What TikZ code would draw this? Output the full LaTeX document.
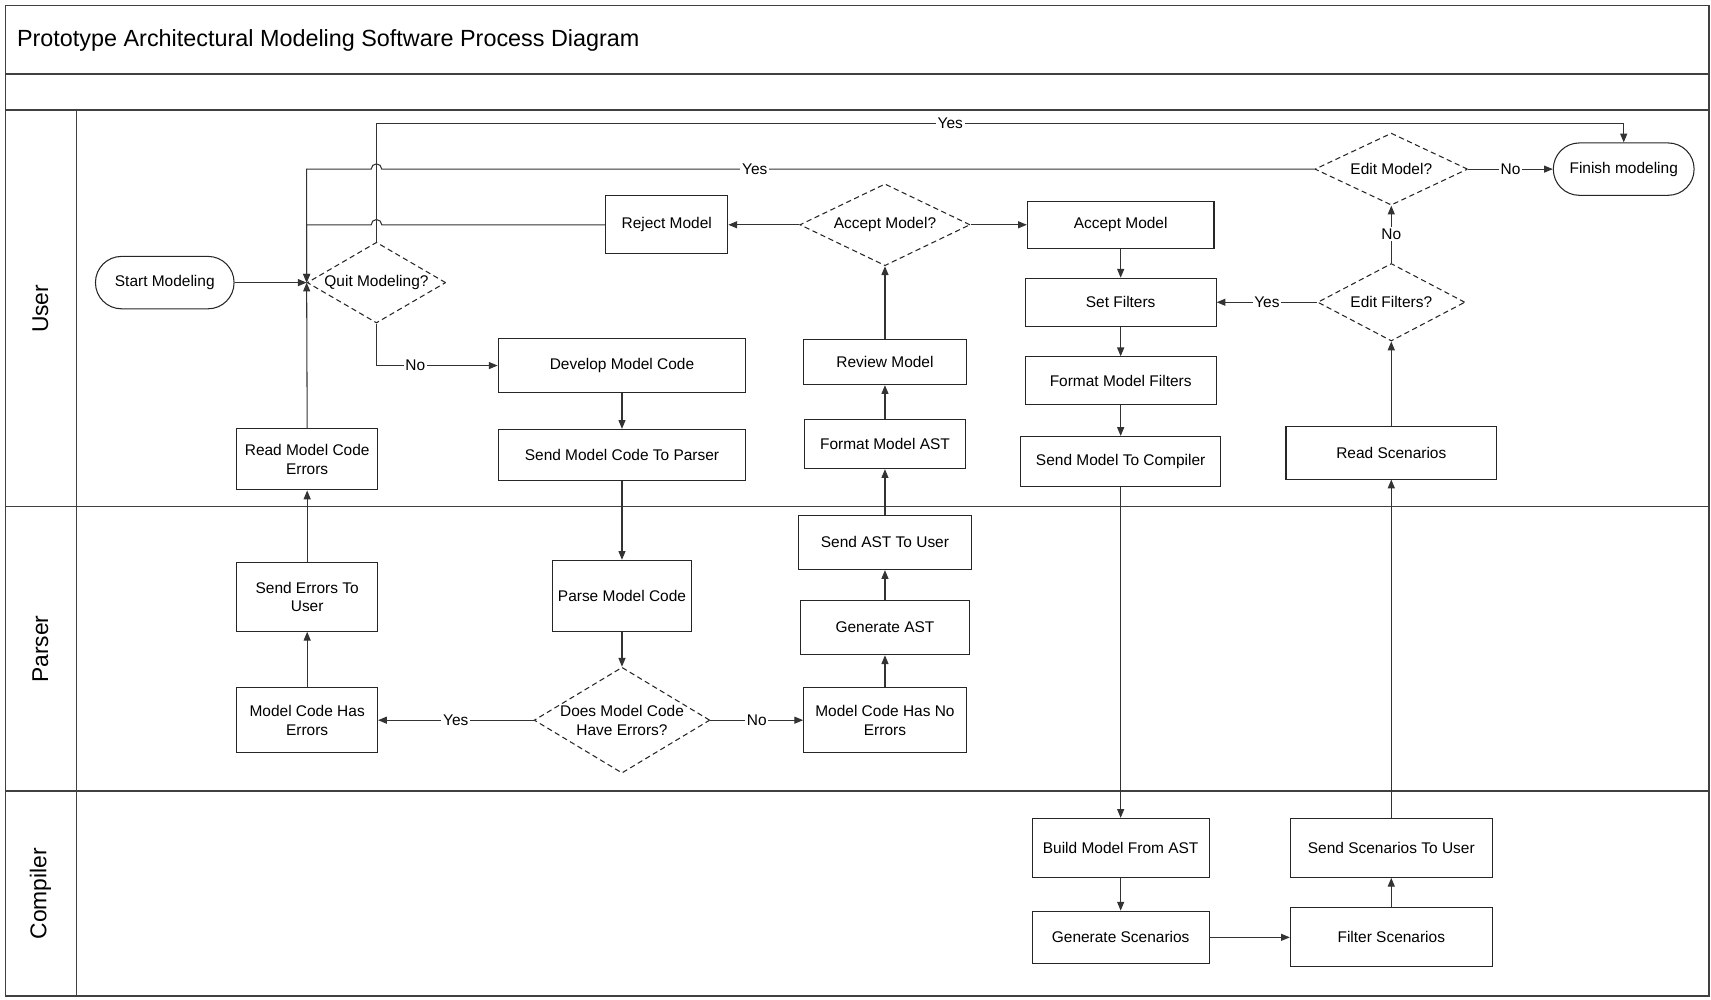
\documentclass[tikz,border=0pt]{standalone}
\usepackage{fontspec}
\setmainfont{Liberation Sans}
\usetikzlibrary{shapes.geometric,arrows.meta,positioning}

\newcommand{\upx}{0.021824cm}
\tikzset{
  box/.style 2 args={draw=black!85, line width=0.6pt, minimum width=#1*\upx, minimum height=#2*\upx,
    inner sep=1pt, align=center, font=\fontsize{8.8}{10.6}\selectfont},
  term/.style={box={#1}{48}, rounded corners=0.52cm},
  decide/.style 2 args={draw=black!85, line width=0.6pt, densely dashed, diamond, shape aspect=1.7,
    minimum width=#1*\upx, minimum height=#2*\upx, inner sep=0pt, align=center,
    font=\fontsize{8.8}{10.6}\selectfont},
  flow/.style={draw=black!80, line width=0.6pt, -{Triangle[length=5pt,width=4pt]}},
  lbl/.style={fill=white, inner sep=1pt, font=\fontsize{8.8}{10.6}\selectfont},
  lane/.style={draw=black!75, line width=0.9pt},
  lanename/.style={rotate=90, font=\fontsize{13}{16}\selectfont},
}

\begin{document}
\begin{tikzpicture}[x=\upx, y=\upx]
  \useasboundingbox (0,0) rectangle (1568,916);

  % 泳道
  \draw[lane] (5,3) rectangle (1566,911);
  \draw[lane] (5,848) -- (1566,848);
  \draw[lane] (5,815) -- (1566,815);
  \draw[lane] (70,815) -- (70,3);
  \draw[lane] (5,452) -- (1566,452);
  \draw[lane] (5,191) -- (1566,191);

  \node[anchor=west, font=\fontsize{13.3}{16}\selectfont] (title) at (10,879)
    {Prototype Architectural Modeling Software Process Diagram};
  \node[lanename] (luser) at (37,633) {User};
  \node[lanename] (lparser) at (37,321) {Parser};
  \node[lanename] (lcompiler) at (37,97) {Compiler};

  % User
  \node[term=127] (start) at (151,657) {Start Modeling};
  \node[decide={127}{74}] (quit) at (345,657) {Quit Modeling?};
  \node[box={112}{53}] (reject) at (611,710) {Reject Model};
  \node[decide={156}{75}] (acceptq) at (811,710) {Accept Model?};
  \node[box={171}{43}] (accept) at (1027,710) {Accept Model};
  \node[decide={140}{66}] (editmodel) at (1275,761) {Edit Model?};
  \node[term=129] (finish) at (1488,761) {Finish modeling};
  \node[box={175}{44}] (setfilt) at (1027,639) {Set Filters};
  \node[decide={135}{71}] (editfilt) at (1275,639) {Edit Filters?};
  \node[box={227}{49}] (develop) at (570,581) {Develop Model Code};
  \node[box={150}{41}] (review) at (811,584) {Review Model};
  \node[box={175}{44}] (fmtfilt) at (1027,567) {Format Model Filters};
  \node[box={129}{56}] (readerr) at (281.5,495) {Read Model Code\\Errors};
  \node[box={227}{47}] (sendcode) at (570,499) {Send Model Code To Parser};
  \node[box={148}{45}] (fmtast) at (811,509) {Format Model AST};
  \node[box={183}{46}] (sendcomp) at (1027,493) {Send Model To Compiler};
  \node[box={193}{48}] (readscen) at (1275,501) {Read Scenarios};

  % Parser
  \node[box={129}{63}] (senderr) at (281.5,369) {Send Errors To\\User};
  \node[box={127}{65}] (parse) at (570,370) {Parse Model Code};
  \node[box={158}{50}] (sendast) at (811,419) {Send AST To User};
  \node[box={155}{50}] (genast) at (811,341) {Generate AST};
  \node[box={129}{60}] (haserr) at (281.5,256) {Model Code Has\\Errors};
  \node[decide={161}{97}] (doeserr) at (570,256) {Does Model Code\\Have Errors?};
  \node[box={149}{60}] (noerr) at (811,256) {Model Code Has No\\Errors};

  % Compiler
  \node[box={162}{54}] (build) at (1027,139) {Build Model From AST};
  \node[box={185}{54}] (sendscen) at (1275,139) {Send Scenarios To User};
  \node[box={162}{48}] (genscen) at (1027,57) {Generate Scenarios};
  \node[box={185}{54}] (filtscen) at (1275,57) {Filter Scenarios};

  % 连线
  \coordinate (topy) at (0,803);
  \coordinate (jx) at ([xshift=3pt]quit.north);
  \draw[flow] (start) -- (quit.west);
  \draw[flow] (quit.north) -- (quit.north |- topy) -- node[lbl, pos=0.46]{Yes} (finish.north |- topy) -- (finish.north);
  \draw[flow] (editmodel.west) -- node[lbl, pos=0.6]{Yes} (jx |- editmodel.west)
    arc[start angle=0, end angle=180, radius=3pt] -- (quit.west |- editmodel.west) -- (quit.west);
  \draw[flow] (reject.west) -- (jx |- reject.west)
    arc[start angle=0, end angle=180, radius=3pt] -- (quit.west |- reject.west) -- (quit.west);
  \draw[flow] (readerr.north) -- (quit.west);
  \draw[flow] (quit.south) |- node[lbl, pos=0.66]{No} (develop.west);
  \draw[flow] (develop) -- (sendcode);
  \draw[flow] (sendcode) -- (parse);
  \draw[flow] (parse) -- (doeserr);
  \draw[flow] (doeserr.west) -- node[lbl]{Yes} (haserr.east);
  \draw[flow] (doeserr.east) -- node[lbl]{No} (noerr.west);
  \draw[flow] (haserr) -- (senderr);
  \draw[flow] (senderr) -- (readerr);
  \draw[flow] (noerr) -- (genast);
  \draw[flow] (genast) -- (sendast);
  \draw[flow] (sendast) -- (fmtast);
  \draw[flow] (fmtast) -- (review);
  \draw[flow] (review) -- (acceptq.south);
  \draw[flow] (acceptq.west) -- (reject.east);
  \draw[flow] (acceptq.east) -- (accept.west);
  \draw[flow] (accept) -- (setfilt);
  \draw[flow] (setfilt) -- (fmtfilt);
  \draw[flow] (fmtfilt) -- (sendcomp);
  \draw[flow] (sendcomp) -- (build);
  \draw[flow] (build) -- (genscen);
  \draw[flow] (genscen) -- (filtscen);
  \draw[flow] (filtscen) -- (sendscen);
  \draw[flow] (sendscen) -- (readscen);
  \draw[flow] (readscen) -- (editfilt.south);
  \draw[flow] (editfilt.west) -- node[lbl]{Yes} (setfilt.east);
  \draw[flow] (editfilt.north) -- node[lbl]{No} (editmodel.south);
  \draw[flow] (editmodel.east) -- node[lbl]{No} (finish.west);
\end{tikzpicture}
\end{document}
